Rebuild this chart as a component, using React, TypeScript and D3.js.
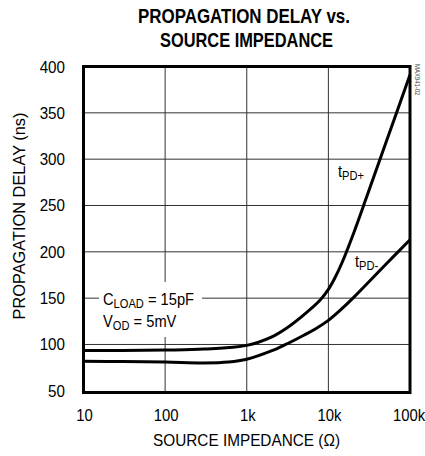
import React from "react";
import * as d3 from "d3";

const xTicks = [10, 100, 1000, 10000, 100000];
const xTickLabels = ["10", "100", "1k", "10k", "100k"];
const yTicks = [50, 100, 150, 200, 250, 300, 350, 400];

const tpdPlusX = [10, 30, 100, 300, 1000, 2000, 3000, 5000, 8000, 10000, 12000, 15000, 20000, 30000, 50000, 100000];
const tpdPlusY = [93.5, 93.5, 94, 95, 99, 108, 117, 132, 148.3, 159.4, 171.7, 190.1, 218.2, 261.3, 316.3, 391];

const tpdMinusX = [10, 30, 100, 300, 600, 1000, 2000, 3000, 5000, 7000, 10000, 14000, 20000, 50000, 100000];
const tpdMinusY = [82, 81.5, 81, 80, 81, 84, 93, 100, 110, 117, 126, 137, 150, 186, 213];

const FONT = "'Liberation Sans', Arial, sans-serif";
const FS = 16.5;
const SUB = 12.5;

function NText(props: {
  x: number;
  y: number;
  sx?: number;
  rot?: number;
  anchor?: string;
  size?: number;
  weight?: string;
  fill?: string;
  children: React.ReactNode;
}) {
  const { x, y, sx = 0.9, rot = 0, anchor = "start", size = FS, weight = "normal", fill = "#000", children } = props;
  return (
    <text
      transform={`translate(${x},${y}) rotate(${rot}) scale(${sx},1)`}
      textAnchor={anchor}
      fontSize={size}
      fontWeight={weight}
      fill={fill}
    >
      {children}
    </text>
  );
}

export default function App() {
  const W = 425, H = 456;
  const x = d3.scaleLog().domain([10, 100000]).range([83.5, 410]);
  const y = d3.scaleLinear().domain([50, 400]).range([390.8, 66.5]);
  const line = d3
    .line<[number, number]>()
    .x((d) => x(d[0]))
    .y((d) => y(d[1]))
    .curve(d3.curveCatmullRom.alpha(0.5));
  const plus = line(tpdPlusX.map((v, i) => [v, tpdPlusY[i]] as [number, number])) || "";
  const minus = line(tpdMinusX.map((v, i) => [v, tpdMinusY[i]] as [number, number])) || "";

  const fx0 = x(10), fx1 = x(100000), fy0 = y(400), fy1 = y(50) + 1.7;

  return (
    <svg width={W} height={H} style={{ position: "absolute", left: 0, top: 0, background: "#fff" }} fontFamily={FONT}>
      <rect x={0} y={0} width={W} height={H} fill="#fff" />
      {/* title */}
      <text x={244} y={23} textAnchor="middle" fontWeight="bold" fontSize={20} fill="#000" textLength={212} lengthAdjust="spacingAndGlyphs">PROPAGATION DELAY vs.</text>
      <text x={246.5} y={46.5} textAnchor="middle" fontWeight="bold" fontSize={20} fill="#000" textLength={173} lengthAdjust="spacingAndGlyphs">SOURCE IMPEDANCE</text>

      {/* grid */}
      {xTicks.slice(1, -1).map((t) => (
        <line key={"gx" + t} x1={x(t)} x2={x(t)} y1={fy0} y2={fy1} stroke="#333" strokeWidth={1} />
      ))}
      {yTicks.slice(1, -1).map((t) => (
        <line key={"gy" + t} x1={fx0} x2={fx1} y1={y(t)} y2={y(t)} stroke="#333" strokeWidth={1} />
      ))}

      {/* annotation background */}
      <rect x={99} y={282} width={103} height={55} fill="#fff" />
      <NText x={103} y={305} sx={0.89}>
        C<tspan fontSize={SUB} dy={3}>LOAD</tspan><tspan dy={-3}> = 15pF</tspan>
      </NText>
      <NText x={103} y={327} sx={0.89}>
        V<tspan fontSize={SUB} dy={3}>OD</tspan><tspan dy={-3}> = 5mV</tspan>
      </NText>

      {/* curve labels */}
      <NText x={338} y={177} sx={0.89}>
        t<tspan fontSize={SUB} dy={3}>PD+</tspan>
      </NText>
      <NText x={355} y={267} sx={0.89}>
        t<tspan fontSize={SUB} dy={3}>PD-</tspan>
      </NText>

      {/* curves */}
      <path d={plus} fill="none" stroke="#000" strokeWidth={3} />
      <path d={minus} fill="none" stroke="#000" strokeWidth={3} />

      {/* frame */}
      <rect x={fx0} y={fy0} width={fx1 - fx0} height={fy1 - fy0} fill="none" stroke="#000" strokeWidth={3} />

      {/* y tick labels */}
      {yTicks.map((t) => (
        <NText key={"yl" + t} x={65} y={y(t) + 6} anchor="end" sx={0.92}>{t}</NText>
      ))}
      {/* x tick labels */}
      {xTicks.map((t, i) => (
        <NText key={"xl" + t} x={i === xTicks.length - 1 ? x(t) - 1 : x(t) + 1} y={421} anchor="middle" sx={0.9}>{xTickLabels[i]}</NText>
      ))}

      {/* axis titles */}
      <text x={246.5} y={446} textAnchor="middle" fontSize={FS} fill="#000" textLength={187} lengthAdjust="spacingAndGlyphs">SOURCE IMPEDANCE (Ω)</text>
      <text transform="translate(25,216) rotate(-90)" textAnchor="middle" fontSize={FS} fill="#000" textLength={207} lengthAdjust="spacingAndGlyphs">PROPAGATION DELAY (ns)</text>

      {/* figure code */}
      <NText x={415} y={64} rot={90} size={7} sx={0.85} fill="#444">MAX941-02</NText>
    </svg>
  );
}
